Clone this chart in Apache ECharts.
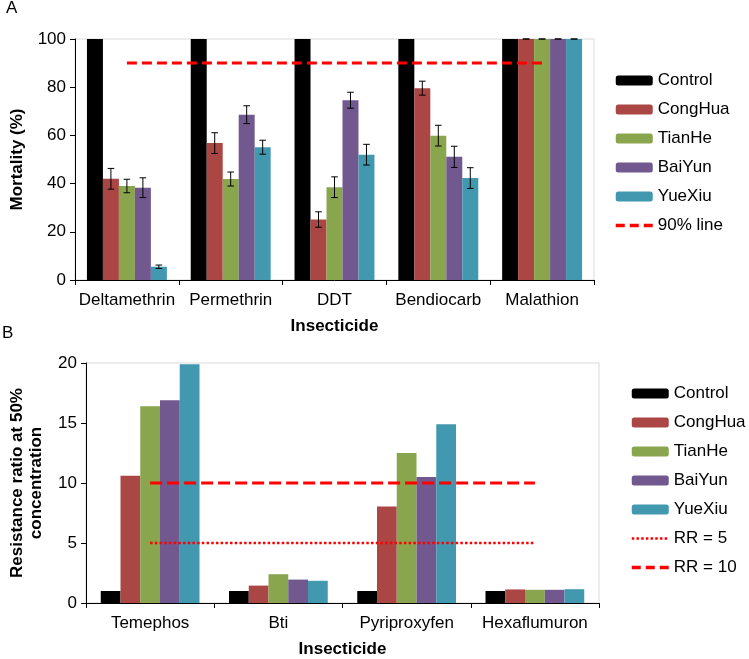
<!DOCTYPE html>
<html>
<head>
<meta charset="utf-8">
<script src="https://cdn.jsdelivr.net/npm/echarts@6/dist/echarts.min.js"></script>
<style>
html,body{margin:0;padding:0;background:#fff;}
#chart{width:749px;height:659px;}
</style>
</head>
<body>
<div id="chart"></div>
<script>
// ---- Panel A data ----
const categoriesA = ['Deltamethrin', 'Permethrin', 'DDT', 'Bendiocarb', 'Malathion'];
const controlA = [100, 100, 100, 100, 100];
const conghuaA = [42, 56.8, 25.1, 79.6, 100];
const tianheA = [39, 41.9, 38.5, 59.9, 100];
const baiyunA = [38.3, 68.6, 74.6, 51.1, 100];
const yuexiuA = [5.5, 55.1, 52, 42.3, 100];
const conghuaErrA = [4.3, 4.3, 3.2, 2.9, 0];
const tianheErrA = [2.8, 2.9, 4.3, 4.3, 0];
const baiyunErrA = [4.1, 3.7, 3.3, 4.4, 0];
const yuexiuErrA = [0.7, 2.9, 4.3, 4.3, 0];
const line90A = [90, 90, 90, 90, 90];
const yTicksA = [0, 20, 40, 60, 80, 100];

// ---- Panel B data ----
const categoriesB = ['Temephos', 'Bti', 'Pyriproxyfen', 'Hexaflumuron'];
const controlB = [1, 1, 1, 1];
const conghuaB = [10.6, 1.45, 8.05, 1.13];
const tianheB = [16.4, 2.4, 12.5, 1.1];
const baiyunB = [16.9, 1.95, 10.5, 1.1];
const yuexiuB = [19.9, 1.85, 14.9, 1.15];
const rr5B = [5, 5, 5, 5];
const rr10B = [10, 10, 10, 10];
const yTicksB = [0, 5, 10, 15, 20];

const seriesNames = ['Control', 'CongHua', 'TianHe', 'BaiYun', 'YueXiu'];
const colors = ['#000000', '#AA4643', '#89A54E', '#71588F', '#4198AF'];
const FONT = 'Liberation Sans, Arial, sans-serif';
const GAP = 0.23;

function errRender(idx) {
  return function (params, api) {
    const x = api.value(0), y = api.value(1), e = api.value(2);
    const c = api.coord([x, y]);
    const w = api.size([1, 0])[0];
    const group = w * (1 - GAP);
    const bw = group / 5;
    const cx = c[0] - group / 2 + bw * (idx + 0.5);
    const top = api.coord([x, y + e])[1];
    const bot = api.coord([x, y - e])[1];
    const hw = 3.3;
    const st = { stroke: '#000', lineWidth: 1 };
    return {
      type: 'group',
      children: [
        { type: 'line', shape: { x1: cx, y1: top, x2: cx, y2: bot }, style: st },
        { type: 'line', shape: { x1: cx - hw, y1: top, x2: cx + hw, y2: top }, style: st },
        { type: 'line', shape: { x1: cx - hw, y1: bot, x2: cx + hw, y2: bot }, style: st }
      ]
    };
  };
}

const barsA = [controlA, conghuaA, tianheA, baiyunA, yuexiuA];
const errsA = [null, conghuaErrA, tianheErrA, baiyunErrA, yuexiuErrA];
const barsB = [controlB, conghuaB, tianheB, baiyunB, yuexiuB];

const series = [];
barsA.forEach((d, i) => {
  series.push({
    name: seriesNames[i], type: 'bar', xAxisIndex: 0, yAxisIndex: 0,
    data: d, barGap: 0, barCategoryGap: (GAP * 100) + '%',
    itemStyle: { color: colors[i] }, z: 2
  });
});
errsA.forEach((e, i) => {
  if (!e) return;
  series.push({
    type: 'custom', xAxisIndex: 0, yAxisIndex: 0, z: 4,
    renderItem: errRender(i),
    encode: { x: 0, y: 1 },
    data: barsA[i].map((v, k) => [k, v, e[k]])
  });
});
series.push({
  name: '90% line', type: 'line', xAxisIndex: 0, yAxisIndex: 0,
  data: line90A, symbol: 'none', z: 5,
  lineStyle: { color: '#FF0000', width: 3, type: [10, 5] },
  itemStyle: { color: '#FF0000' }
});
barsB.forEach((d, i) => {
  series.push({
    name: seriesNames[i], type: 'bar', xAxisIndex: 1, yAxisIndex: 1,
    data: d, barGap: 0, barCategoryGap: (GAP * 100) + '%',
    itemStyle: { color: colors[i] }, z: 2
  });
});
series.push({
  name: 'RR = 5', type: 'line', xAxisIndex: 1, yAxisIndex: 1,
  data: rr5B, symbol: 'none', z: 5,
  lineStyle: { color: '#FF0000', width: 2.5, type: [2.5, 2.2] },
  itemStyle: { color: '#FF0000' }
});
series.push({
  name: 'RR = 10', type: 'line', xAxisIndex: 1, yAxisIndex: 1,
  data: rr10B, symbol: 'none', z: 5,
  lineStyle: { color: '#FF0000', width: 3, type: [12, 5] },
  itemStyle: { color: '#FF0000' }
});

const axisText = { color: '#000', fontSize: 17, fontFamily: FONT };
const nameText = { color: '#000', fontSize: 17, fontWeight: 'bold', fontFamily: FONT };

function yAxis(idx, max, interval, name, gap, lh) {
  return {
    type: 'value', gridIndex: idx, min: 0, max: max, interval: interval,
    name: name, nameLocation: 'middle', nameGap: gap,
    nameTextStyle: Object.assign({}, nameText, { lineHeight: lh }),
    axisLine: { show: true, lineStyle: { color: '#000', width: 1 } },
    axisTick: { show: true, length: 5, lineStyle: { color: '#000' } },
    axisLabel: Object.assign({ margin: 9 }, axisText),
    splitLine: { show: false }
  };
}
function xAxis(idx, cats) {
  return {
    type: 'category', gridIndex: idx, data: cats,
    name: 'Insecticide', nameLocation: 'middle', nameGap: 38,
    nameTextStyle: nameText,
    axisLine: { show: true, lineStyle: { color: '#000', width: 1 } },
    axisTick: { show: true, length: 5, lineStyle: { color: '#000' } },
    axisLabel: Object.assign({ margin: 12, interval: 0 }, axisText),
    splitLine: { show: false }
  };
}

const legendBase = {
  orient: 'vertical', itemWidth: 37, itemHeight: 10, itemGap: 12,
  padding: 0, selectedMode: false,
  textStyle: { color: '#000', fontSize: 17, fontFamily: FONT, lineHeight: 17 }
};
const noSym = { color: 'rgba(0,0,0,0)', borderWidth: 0, opacity: 0 };
const dashLeg = { color: '#FF0000', width: 3.5, type: [9, 5] };
const dotLeg = { color: '#FF0000', width: 2.5, type: [2.5, 2.2] };

const option = {
  animation: false,
  backgroundColor: '#fff',
  textStyle: { fontFamily: FONT },
  grid: [
    { left: 75, right: 155, top: 39, height: 241, show: true, borderColor: '#d9d9d9', borderWidth: 1, containLabel: false },
    { left: 81, right: 150, top: 363, height: 242, show: true, borderColor: '#d9d9d9', borderWidth: 1, containLabel: false }
  ],
  xAxis: [xAxis(0, categoriesA), xAxis(1, categoriesB)],
  yAxis: [
    yAxis(0, yTicksA[yTicksA.length - 1], yTicksA[1] - yTicksA[0], 'Mortality (%)', 49, 17),
    yAxis(1, yTicksB[yTicksB.length - 1], yTicksB[1] - yTicksB[0], 'Resistance ratio at 50%\nconcentration', 40, 19)
  ],
  legend: [
    Object.assign({}, legendBase, { left: 614, top: 72,
      data: seriesNames.concat([{ name: '90% line', itemStyle: noSym, lineStyle: dashLeg }]) }),
    Object.assign({}, legendBase, { left: 630, top: 385,
      data: seriesNames.concat([
        { name: 'RR = 5', itemStyle: noSym, lineStyle: dotLeg },
        { name: 'RR = 10', itemStyle: noSym, lineStyle: dashLeg }
      ]) })
  ],
  graphic: [
    { type: 'text', left: 6, top: 0, style: { text: 'A', fontSize: 17, fontFamily: FONT, fill: '#000' } },
    { type: 'text', left: 2, top: 325, style: { text: 'B', fontSize: 17, fontFamily: FONT, fill: '#000' } }
  ],
  series: series
};

const chart = echarts.init(document.getElementById('chart'), null, { renderer: 'canvas' });
chart.setOption(option);
</script>
</body>
</html>
